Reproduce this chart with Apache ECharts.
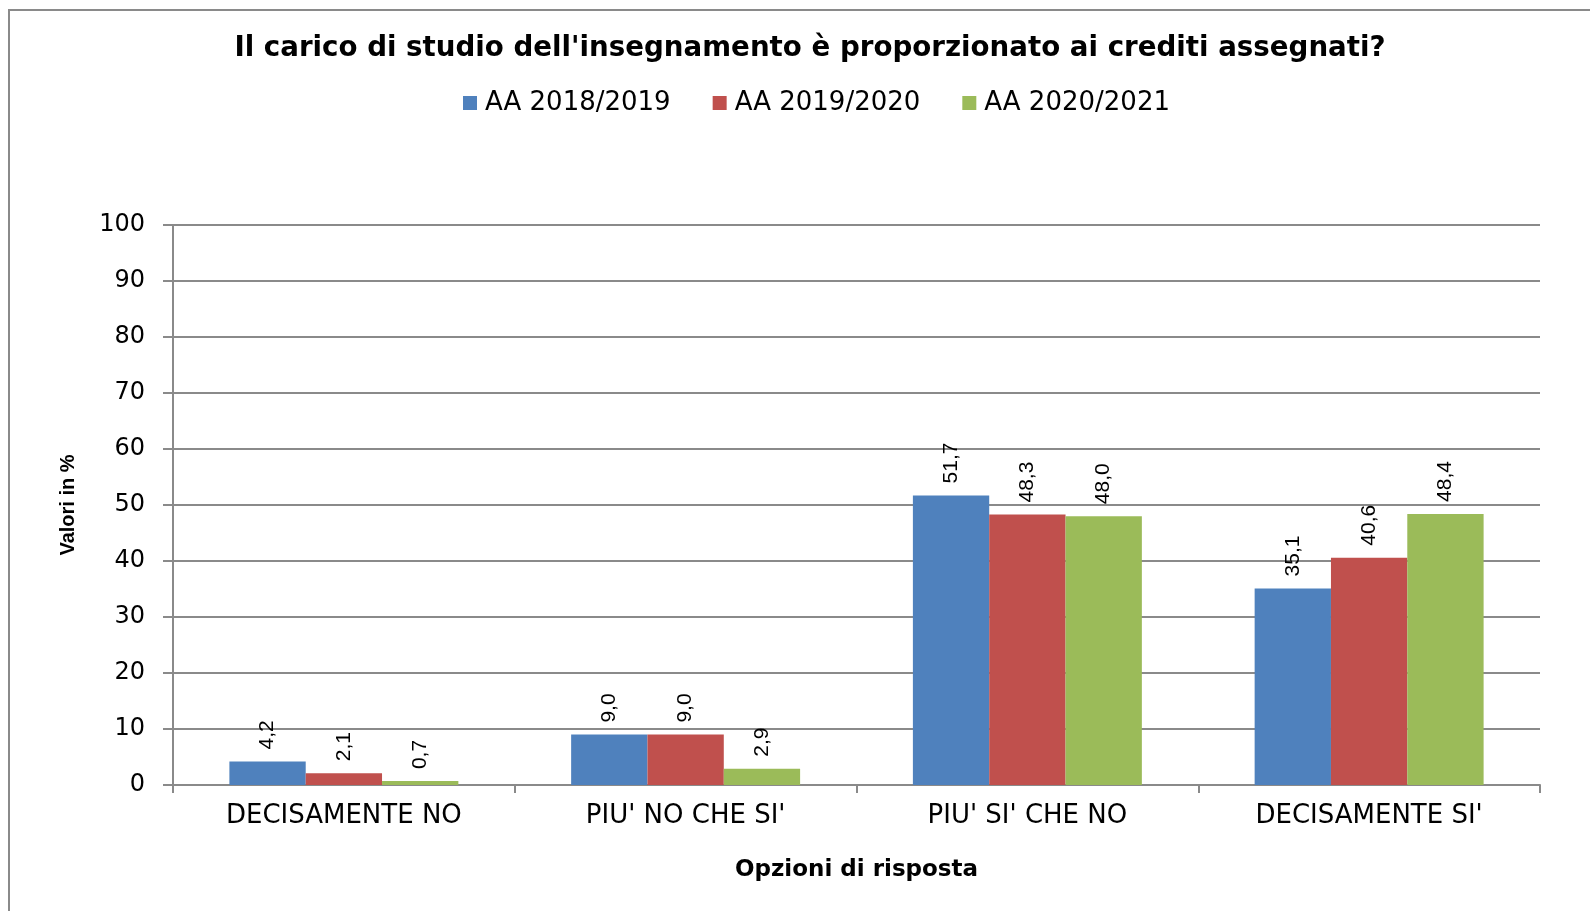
<!DOCTYPE html>
<html>
<head>
<meta charset="utf-8">
<script src="https://cdn.jsdelivr.net/npm/echarts@6/dist/echarts.min.js"></script>
<style>
html,body{margin:0;padding:0;background:#fff;}
#frame{position:absolute;left:8px;top:9px;width:1582px;height:902px;border-left:2px solid #8a8a8a;border-top:2px solid #8a8a8a;}
#chart{position:absolute;left:0;top:0;width:1590px;height:911px;}
</style>
</head>
<body>
<div id="frame"></div>
<div id="chart"></div>
<script>
const categories = ["DECISAMENTE NO", "PIU' NO CHE SI'", "PIU' SI' CHE NO", "DECISAMENTE SI'"];
const seriesNames = ["AA 2018/2019", "AA 2019/2020", "AA 2020/2021"];
const aa2018 = [4.2, 9.0, 51.7, 35.1];
const aa2019 = [2.1, 9.0, 48.3, 40.6];
const aa2020 = [0.7, 2.9, 48.0, 48.4];
const colors = ["#4F81BD", "#C0504D", "#9BBB59"];

const chart = echarts.init(document.getElementById('chart'));
const fmt = p => p.value.toFixed(1).replace('.', ',');
function mk(name, data, color) {
  return {
    name: name, type: 'bar', data: data, barCategoryGap: '33%', barGap: '0%',
    itemStyle: {color: color},
    label: {show: true, position: 'top', rotate: 90, align: 'left', verticalAlign: 'middle',
      distance: 12, formatter: fmt, fontFamily: 'Liberation Sans', fontSize: 21, color: '#000'}
  };
}
chart.setOption({
  animation: false,
  title: {text: "Il carico di studio dell'insegnamento è proporzionato ai crediti assegnati?",
    left: 805, top: 44, textAlign: 'center', textVerticalAlign: 'middle',
    textStyle: {fontFamily: 'DejaVu Sans', fontWeight: 'bold', fontSize: 27.7, color: '#000'}},
  legend: {data: seriesNames, left: 458, top: 85, itemWidth: 14, itemHeight: 14, itemGap: 42,
    icon: 'rect', textStyle: {fontFamily: 'DejaVu Sans', fontSize: 26, color: '#000', padding: [0,0,0,3]}},
  grid: {left: 173, right: 50, top: 225, bottom: 126},
  xAxis: {type: 'category', data: categories,
    name: 'Opzioni di risposta', nameLocation: 'middle', nameGap: 74,
    nameTextStyle: {fontFamily: 'DejaVu Sans', fontWeight: 'bold', fontSize: 23, color: '#000'},
    axisLine: {lineStyle: {color: '#8a8a8a', width: 2}},
    axisTick: {show: true, length: 8, lineStyle: {color: '#8a8a8a', width: 2}},
    axisLabel: {fontFamily: 'DejaVu Sans', fontSize: 26, color: '#000', margin: 18}},
  yAxis: {type: 'value', min: 0, max: 100, interval: 10,
    name: 'Valori in %', nameLocation: 'middle', nameGap: 95, nameRotate: 90,
    nameTextStyle: {fontFamily: 'Liberation Sans', fontWeight: 'bold', fontSize: 20, color: '#000'},
    axisLine: {show: true, lineStyle: {color: '#8a8a8a', width: 2}},
    axisTick: {show: true, length: 10, lineStyle: {color: '#8a8a8a', width: 2}},
    axisLabel: {fontFamily: 'DejaVu Sans', fontSize: 24, color: '#000', margin: 28},
    splitLine: {lineStyle: {color: '#8a8a8a', width: 2}}},
  series: [mk(seriesNames[0], aa2018, colors[0]), mk(seriesNames[1], aa2019, colors[1]), mk(seriesNames[2], aa2020, colors[2])]
});
</script>
</body>
</html>
